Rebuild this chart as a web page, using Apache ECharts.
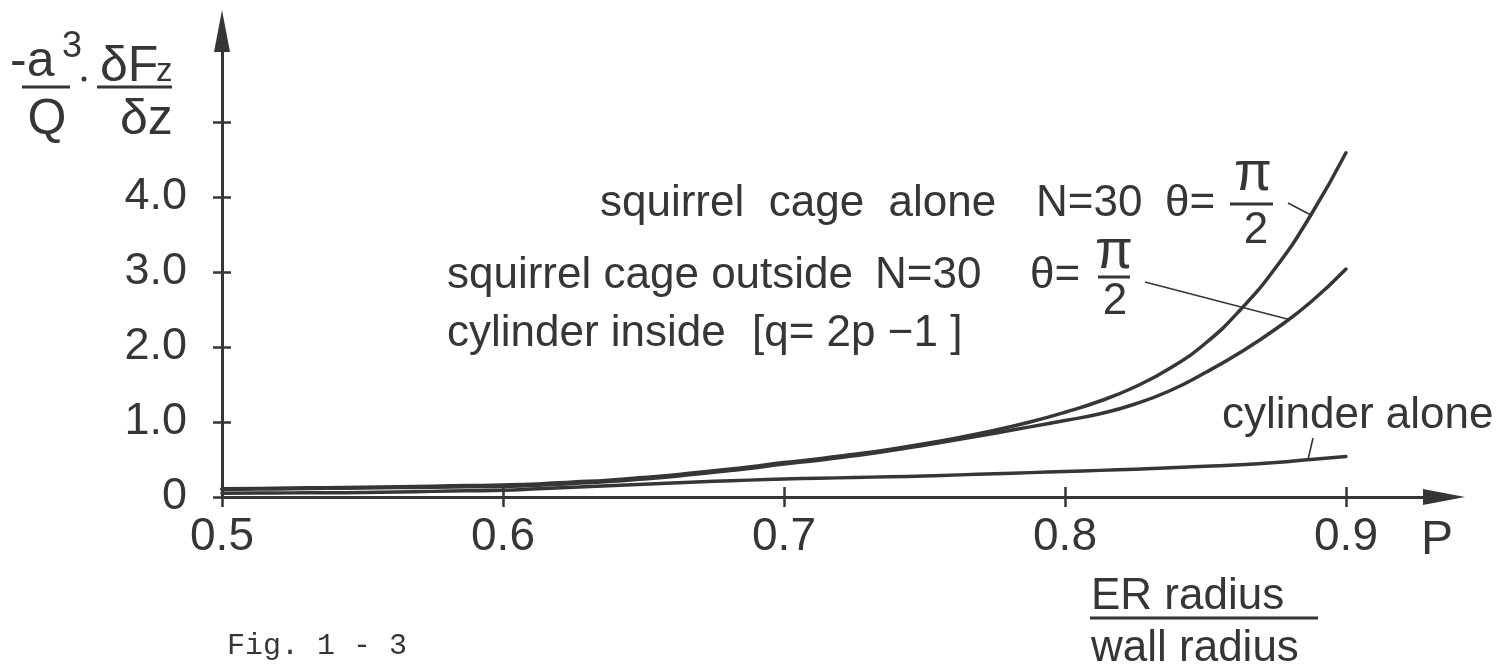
<!DOCTYPE html>
<html><head><meta charset="utf-8">
<script src="https://cdn.jsdelivr.net/npm/echarts@6/dist/echarts.min.js"></script>
<style>html,body{margin:0;padding:0;background:#fff;}#c{width:1496px;height:666px;}</style>
</head><body><div id="c"></div>
<script>
// ---- data (p step 0.0125 from 0.5 to 0.9) ----
const P = [0.5, 0.5125, 0.525, 0.5375, 0.55, 0.5625, 0.575, 0.5875, 0.6, 0.6125, 0.625, 0.6375, 0.65, 0.6625, 0.675, 0.6875,
           0.7, 0.7125, 0.725, 0.7375, 0.75, 0.7625, 0.775, 0.7875, 0.8, 0.8125, 0.825, 0.8375, 0.85, 0.8625, 0.875, 0.8875, 0.9];
const squirrelAlone   = [0.11, 0.115, 0.12, 0.125, 0.13, 0.137, 0.145, 0.152, 0.16, 0.175, 0.20, 0.225, 0.26, 0.30, 0.35, 0.40,
                         0.46, 0.51, 0.57, 0.635, 0.71, 0.795, 0.89, 1.00, 1.13, 1.28, 1.47, 1.72, 2.05, 2.50, 3.06, 3.76, 4.59];
const squirrelOutside = [0.10, 0.105, 0.11, 0.115, 0.12, 0.125, 0.13, 0.135, 0.14, 0.155, 0.18, 0.205, 0.24, 0.28, 0.33, 0.38,
                         0.44, 0.49, 0.55, 0.615, 0.69, 0.77, 0.85, 0.935, 1.02, 1.11, 1.24, 1.42, 1.66, 1.93, 2.24, 2.60, 3.04];
const cylinderAlone   = [0.05, 0.052, 0.055, 0.057, 0.06, 0.067, 0.075, 0.082, 0.09, 0.11, 0.13, 0.15, 0.17, 0.19, 0.21, 0.225,
                         0.24, 0.25, 0.26, 0.27, 0.28, 0.295, 0.31, 0.325, 0.34, 0.355, 0.37, 0.39, 0.41, 0.43, 0.46, 0.50, 0.54];
const X_TICKS = [0.5, 0.6, 0.7, 0.8, 0.9];
const Y_TICKS = [0, 1, 2, 3, 4, 5];
const Y_LABELS = [0, 1, 2, 3, 4];
// leader-line targets on the curves (data space)
const LEADER_TARGETS = [[0.8875, 3.76], [0.8794, 2.37], [0.8865, 0.50]];

const X_MIN = 0.5, X_MAX = 0.93488, Y_MIN = 0, Y_MAX = 6.2133;
const INK = '#363636';
const SANS = "'Liberation Sans', Arial, sans-serif";
const NARROW = "'Liberation Sans Narrow', 'Liberation Sans', sans-serif";

const zip = (xs, ys) => xs.map((x, i) => [x, ys[i]]);

const chart = echarts.init(document.getElementById('c'), null, {renderer: 'canvas'});

function xAx(main) {
  return {
    type: 'value', min: X_MIN, max: X_MAX, position: 'bottom', gridIndex: 0,
    splitLine: {show: false},
    axisLine: main ? {show: true, onZero: false, symbol: ['none', 'triangle'], symbolSize: [16, 42],
      lineStyle: {color: INK, width: 3}} : {show: false},
    axisTick: {show: true, customValues: X_TICKS, length: 10, inside: !main, lineStyle: {color: INK, width: 2.5}},
    axisLabel: {show: main, customValues: X_TICKS, margin: 17, color: INK, fontSize: 46, fontFamily: NARROW,
      formatter: v => v.toFixed(1)}
  };
}
function yAx(main) {
  return {
    type: 'value', min: Y_MIN, max: Y_MAX, position: 'left', gridIndex: 0, offset: 0,
    splitLine: {show: false},
    axisLine: main ? {show: true, onZero: false, symbol: ['none', 'triangle'], symbolSize: [16, 42],
      lineStyle: {color: INK, width: 3}} : {show: false},
    axisTick: {show: true, customValues: Y_TICKS, length: 9, inside: !main, lineStyle: {color: INK, width: 2.5}},
    axisLabel: {show: main, customValues: Y_LABELS, margin: 35, color: INK, fontSize: 45, fontFamily: NARROW,
      formatter: v => v === 0 ? '0' : v.toFixed(1)}
  };
}

const lineSeries = (name, ys) => ({
  name, type: 'line', data: zip(P, ys), xAxisIndex: 0, yAxisIndex: 0,
  symbol: 'none', smooth: 0.5, silent: true,
  lineStyle: {color: INK, width: 3.5, cap: 'round', join: 'round'}
});

chart.setOption({
  animation: false,
  backgroundColor: '#ffffff',
  grid: {left: 222, right: 52, top: 31, bottom: 169, containLabel: false},
  xAxis: [xAx(true), xAx(false)],
  yAxis: [yAx(true), yAx(false)],
  series: [
    lineSeries('squirrel cage alone', squirrelAlone),
    lineSeries('squirrel cage outside, cylinder inside', squirrelOutside),
    lineSeries('cylinder alone', cylinderAlone)
  ]
});

function txt(text, x, y, size, opts) {
  opts = opts || {};
  return {type: 'text', x, y, silent: true,
    style: {text, fill: INK, fontSize: size, fontFamily: opts.font || SANS,
      align: opts.align || 'left', verticalAlign: 'middle'}};
}
function seg(x1, y1, x2, y2, w) {
  return {type: 'line', silent: true, shape: {x1, y1, x2, y2}, style: {stroke: INK, lineWidth: w || 3}};
}
const T = LEADER_TARGETS.map(d => chart.convertToPixel({xAxisIndex: 0, yAxisIndex: 0}, d));

const g = [
  // y-axis title  -a^3/Q . dFz/dz
  txt('-a', 10, 62, 50), txt('3', 62, 47, 36),
  seg(22, 87, 70, 87, 3),
  txt('Q', 47, 120, 50, {align: 'center'}),
  {type: 'circle', silent: true, shape: {cx: 84, cy: 79, r: 2.5}, style: {fill: INK}},
  txt('δF', 100, 67, 50), txt('z', 156, 72, 33),
  seg(97, 87, 172, 87, 3),
  txt('δz', 120, 120, 50),
  // annotation 1
  txt('squirrel  cage  alone', 600, 204, 44),
  txt('N=30', 1036, 204, 44),
  txt('θ=', 1165, 204, 44),
  txt('π', 1253, 175, 55, {align: 'center'}),
  seg(1230, 204, 1273, 204, 3),
  txt('2', 1256, 231, 44, {align: 'center'}),
  seg(1288, 203, T[0][0], T[0][1], 1.6),
  // annotation 2
  txt('squirrel cage outside', 447, 276, 44),
  txt('N=30', 875, 276, 44),
  txt('θ=', 1030, 276, 44),
  txt('π', 1114, 253, 55, {align: 'center'}),
  seg(1098, 277, 1130, 277, 3),
  txt('2', 1115, 302, 44, {align: 'center'}),
  txt('cylinder inside', 447, 334, 44),
  txt('[q= 2p −1 ]', 752, 334, 44),
  seg(1145, 282, T[1][0], T[1][1], 1.6),
  // annotation 3
  txt('cylinder alone', 1222, 416, 44),
  seg(1313, 438, T[2][0], T[2][1], 1.6),
  // x-axis name
  txt('P', 1421, 541, 48),
  txt('ER radius', 1091, 597, 44),
  seg(1090, 618, 1318, 618, 3),
  txt('wall radius', 1091, 649, 44),
  // figure caption
  txt('Fig. 1 - 3', 227, 646, 30, {font: "'Liberation Mono', 'DejaVu Sans Mono', monospace"})
];
chart.setOption({graphic: g});
</script></body></html>
